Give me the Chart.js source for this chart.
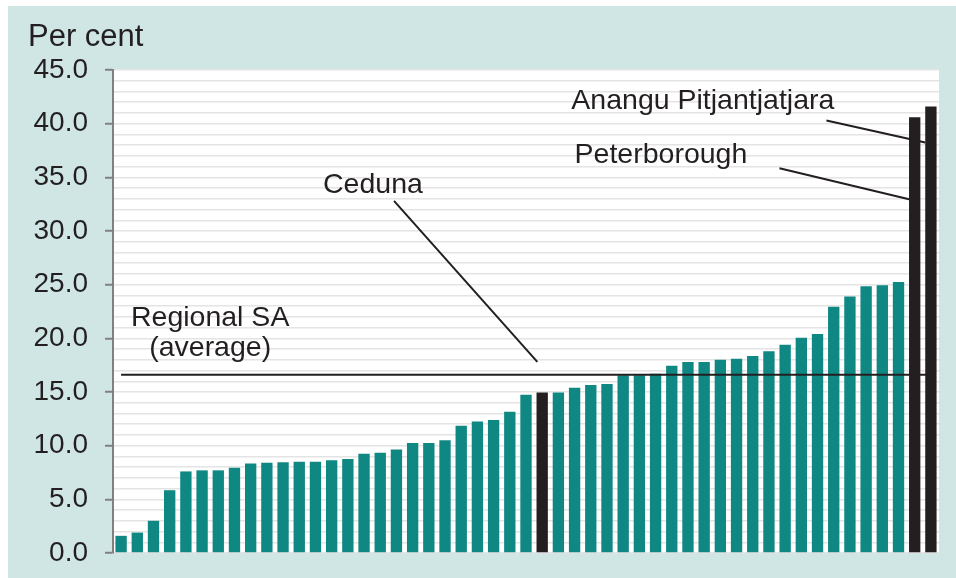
<!DOCTYPE html>
<html>
<head>
<meta charset="utf-8">
<script src="https://cdn.jsdelivr.net/npm/chart.js@4.4.1/dist/chart.umd.min.js"></script>
<style>
  html, body { margin: 0; padding: 0; background: #fff; }
</style>
</head>
<body>
<canvas id="myChart" width="956" height="578"></canvas>
<script>
// share of population (per cent), sorted low to high
const values = [
  1.6, 1.9, 3.0, 5.85, 7.6, 7.7, 7.7, 7.95, 8.35, 8.4,
  8.45, 8.5, 8.5, 8.65, 8.75, 9.25, 9.35, 9.65, 10.25, 10.25,
  10.5, 11.85, 12.25, 12.4, 13.15, 14.75, 14.95, 14.95, 15.4, 15.65,
  15.75, 16.55, 16.55, 16.7, 17.45, 17.8, 17.8, 18.0, 18.1, 18.35,
  18.8, 19.4, 20.05, 20.4, 22.95, 23.9, 24.85, 24.95, 25.25, 40.6,
  41.6
];
const regionalAverage = 16.6;
const highlighted = {26: 'Ceduna', 49: 'Peterborough', 50: 'Anangu Pitjantjatjara'};
const categories = values.map((v, i) => highlighted[i] || 'Area ' + (i + 1));
const yMin = 0, yMax = 45, yLabelStep = 5;

const teal = '#0f8783';
const dark = '#231f20';
const font = "'Liberation Sans', Arial, sans-serif";

// labels and leader lines, in (category index, value) units
const notes = [
  {text: ['Regional SA', '(average)'], at: [5.5, 21.15], align: 'center'},
  {text: ['Ceduna'], at: [15.55, 33.55], align: 'center', from: [16.85, 32.8], to: [25.7, 17.8]},
  {text: ['Peterborough'], at: [28.0, 36.35], align: 'left', from: [40.65, 35.85], to: [48.65, 32.95]},
  {text: ['Anangu Pitjantjatjara'], at: [27.8, 41.35], align: 'left', from: [43.55, 40.3], to: [49.65, 38.25]}
];

const backdrop = {
  id: 'backdrop',
  beforeDraw(chart) {
    const {ctx, chartArea: a, width, height} = chart;
    ctx.save();
    ctx.fillStyle = '#ffffff';
    ctx.fillRect(0, 0, width, height);
    ctx.fillStyle = '#cfe6e5';
    ctx.fillRect(8, 6, width - 8, height - 6);
    ctx.fillStyle = '#ffffff';
    ctx.fillRect(a.left, a.top, a.right - a.left, a.bottom - a.top);
    ctx.fillStyle = dark;
    ctx.font = '31px ' + font;
    ctx.textBaseline = 'alphabetic';
    ctx.fillText('Per cent', 28, 46);
    ctx.restore();
  }
};

const callouts = {
  id: 'callouts',
  afterDatasetsDraw(chart) {
    const {ctx, scales: {x, y}} = chart;
    ctx.save();
    ctx.fillStyle = dark;
    ctx.strokeStyle = dark;
    ctx.lineWidth = 2;
    ctx.font = '28.5px ' + font;
    ctx.textBaseline = 'alphabetic';
    notes.forEach(n => {
      ctx.textAlign = n.align;
      n.text.forEach((t, k) => {
        ctx.fillText(t, x.getPixelForValue(n.at[0]), y.getPixelForValue(n.at[1]) + k * 30);
      });
      if (n.from) {
        ctx.beginPath();
        ctx.moveTo(x.getPixelForValue(n.from[0]), y.getPixelForValue(n.from[1]));
        ctx.lineTo(x.getPixelForValue(n.to[0]), y.getPixelForValue(n.to[1]));
        ctx.stroke();
      }
    });
    ctx.restore();
  }
};

const config = {
  data: {
    labels: categories,
    datasets: [{
      type: 'line',
      label: 'Regional SA (average)',
      data: values.map(() => regionalAverage),
      borderColor: dark,
      borderWidth: 2,
      pointRadius: 0,
      order: 0
    }, {
      type: 'bar',
      label: 'Per cent',
      data: values,
      backgroundColor: values.map((v, i) => highlighted[i] ? dark : teal),
      barPercentage: 0.7,
      categoryPercentage: 1.0,
      order: 1
    }]
  },
  options: {
    responsive: false,
    animation: false,
    layout: { padding: { left: 0, right: 17, top: 70, bottom: 25 } },
    plugins: {
      legend: { display: false },
      tooltip: { enabled: false }
    },
    scales: {
      x: {
        display: false,
        offset: true
      },
      y: {
        min: yMin,
        max: yMax,
        afterFit(scale) {
          scale.width = 113;
          scale.paddingTop = 0;
          scale.paddingBottom = 0;
        },
        border: { color: '#808080', width: 2 },
        grid: {
          color: '#e4e4e4',
          lineWidth: 1.5,
          tickLength: 8,
          tickWidth: 2,
          tickColor: c => (c.tick && c.tick.value % yLabelStep === 0) ? '#808080' : 'rgba(0,0,0,0)'
        },
        ticks: {
          stepSize: 1,
          autoSkip: false,
          padding: 17,
          color: dark,
          font: { family: font, size: 28 },
          callback: v => v % yLabelStep === 0 ? v.toFixed(1) : ''
        }
      }
    }
  },
  plugins: [backdrop, callouts]
};

const myChart = new Chart(document.getElementById('myChart'), config);
</script>
</body>
</html>
